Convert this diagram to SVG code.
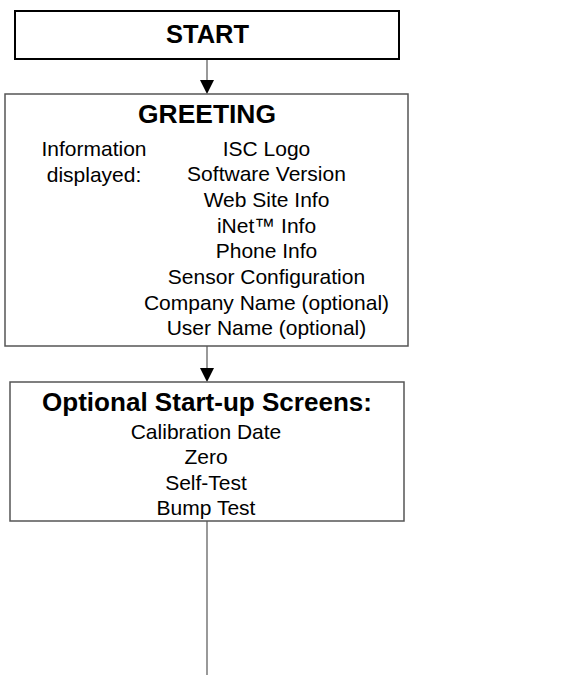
<svg xmlns="http://www.w3.org/2000/svg" width="580" height="675" viewBox="0 0 580 675">
<style>
.t{font-family:"Liberation Sans",Arial,sans-serif;fill:#000;text-anchor:middle}
.b{font-weight:bold;font-size:25px}
.n{font-size:21px}
.box{fill:#fff;stroke:#555;stroke-width:1.5}
.line{stroke:#808080;stroke-width:1.6;fill:none}
.head{fill:#000}
</style>
<rect width="580" height="675" fill="#fff"/>
<g id="connectors">
<line class="line" x1="207" y1="59" x2="207" y2="81"/>
<polygon class="head" points="200,80 214,80 207,94"/>
<line class="line" x1="207" y1="346" x2="207" y2="369"/>
<polygon class="head" points="200,368 214,368 207,382"/>
<line class="line" x1="207" y1="521" x2="207" y2="675"/>
</g>
<g id="start">
<rect x="15" y="11" width="384" height="48" fill="#fff" stroke="#000" stroke-width="2"/>
<text class="t b" x="207.5" y="43" textLength="83" lengthAdjust="spacingAndGlyphs">START</text>
</g>
<g id="greeting">
<rect class="box" x="5" y="94" width="403" height="252"/>
<text class="t b" x="207" y="122.5" textLength="138" lengthAdjust="spacingAndGlyphs">GREETING</text>
<text class="t n" x="94" y="155.5">Information</text>
<text class="t n" x="94" y="181.5">displayed:</text>
<text class="t n" x="266.5" y="155.5">ISC Logo</text>
<text class="t n" x="266.5" y="181.2">Software Version</text>
<text class="t n" x="266.5" y="206.9">Web Site Info</text>
<text class="t n" x="266.5" y="232.6">iNet™ Info</text>
<text class="t n" x="266.5" y="258.3">Phone Info</text>
<text class="t n" x="266.5" y="284">Sensor Configuration</text>
<text class="t n" x="266.5" y="309.7">Company Name (optional)</text>
<text class="t n" x="266.5" y="335.4">User Name (optional)</text>
</g>
<g id="optional">
<rect class="box" x="10" y="382" width="394" height="139"/>
<text class="t b" x="207" y="411" textLength="330" lengthAdjust="spacingAndGlyphs">Optional Start-up Screens:</text>
<text class="t n" x="206" y="439">Calibration Date</text>
<text class="t n" x="206" y="464">Zero</text>
<text class="t n" x="206" y="490">Self-Test</text>
<text class="t n" x="206" y="514.5">Bump Test</text>
</g>
</svg>
